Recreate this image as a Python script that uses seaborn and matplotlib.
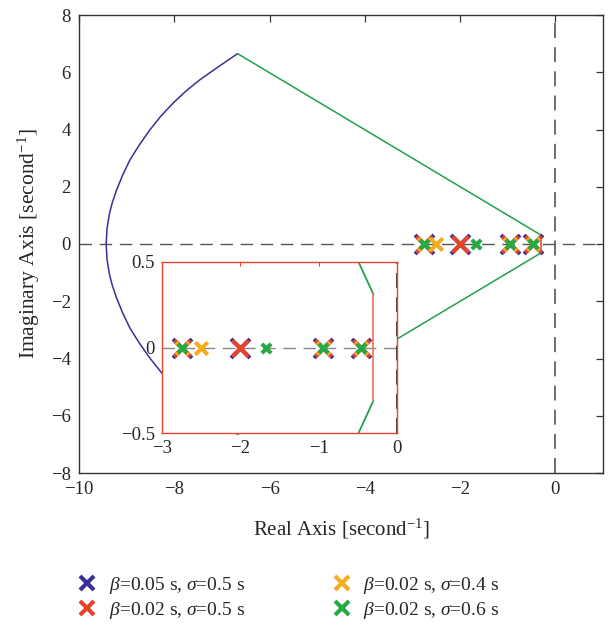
import warnings
import matplotlib
matplotlib.use("Agg")
import matplotlib.pyplot as plt
from matplotlib.lines import Line2D
import seaborn as sns

warnings.filterwarnings("ignore")

# ---- data -------------------------------------------------------------
series_labels = [
    r"$\beta$=0.05 s, $\sigma$=0.5 s",
    r"$\beta$=0.02 s, $\sigma$=0.5 s",
    r"$\beta$=0.02 s, $\sigma$=0.4 s",
    r"$\beta$=0.02 s, $\sigma$=0.6 s",
]
# real parts of the closed-loop poles (all on the real axis)
poles_b005_s05 = [-2.75, -2.0, -0.95, -0.46]
poles_b002_s05 = [-2.75, -2.0, -0.95, -0.46]
poles_b002_s04 = [-2.75, -2.5, -0.95, -0.46]
poles_b002_s06 = [-2.75, -1.67, -0.95, -0.46]
pole_imag = [0.0, 0.0, 0.0, 0.0]

# boundary of the admissible pole region
arc_re = [-6.67, -7.05, -7.46, -7.75, -8.02, -8.28, -8.51, -8.73, -8.93, -9.08,
          -9.21, -9.30, -9.36, -9.41, -9.43, -9.41, -9.36, -9.30, -9.21, -9.08,
          -8.93, -8.73, -8.51, -8.28, -8.02, -7.75, -7.46, -7.05, -6.67]
arc_im = [6.65, 6.22, 5.74, 5.35, 4.93, 4.47, 3.99, 3.47, 2.94, 2.42,
          1.89, 1.45, 1.07, 0.55, 0.0, -0.55, -1.07, -1.45, -1.89, -2.42,
          -2.94, -3.47, -3.99, -4.47, -4.93, -5.35, -5.74, -6.22, -6.65]
upper_edge_re = [-6.67, -0.30]
upper_edge_im = [6.65, 0.31]
lower_edge_re = [-0.30, -6.67]
lower_edge_im = [-0.31, -6.65]
vert_edge_re = [-0.30, -0.30]
vert_edge_im = [0.31, -0.31]

main_xticks = [-10, -8, -6, -4, -2, 0]
main_yticks = [-8, -6, -4, -2, 0, 2, 4, 6, 8]
inset_xticks = [-3, -2, -1, 0]
inset_yticks = [-0.5, 0, 0.5]

# ---- style -------------------------------------------------------------
sns.set_style("white")
plt.rcParams["font.family"] = ["Liberation Serif", "DejaVu Serif"]
plt.rcParams["mathtext.fontset"] = "custom"
plt.rcParams["mathtext.rm"] = "Liberation Serif"
plt.rcParams["mathtext.it"] = "Liberation Serif:italic"
plt.rcParams["mathtext.bf"] = "Liberation Serif:bold"
plt.rcParams["axes.unicode_minus"] = True

c_blue = "#3b2e94"
c_red = "#e8432b"
c_orange = "#f7ab1e"
c_green = "#26a843"
c_line_green = "#1da24a"
c_salmon = "#f07a6a"
pole_colors = [c_blue, c_red, c_orange, c_green]
pole_sizes = [185, 135, 80, 45]
pole_sets = [poles_b005_s05, poles_b002_s05, poles_b002_s04, poles_b002_s06]

fig = plt.figure(figsize=(6.10, 6.25), dpi=100)
ax = fig.add_axes([0.1295, 0.2432, 0.859, 0.7328])


def draw_content(a, boundary_lw, vert_color, vline_color, hline_color):
    a.axhline(0, color=hline_color, lw=1.0, dashes=(9, 5.5), zorder=1)
    a.axvline(0, color=vline_color, lw=1.2, dashes=(9, 5.5), zorder=1)
    sns.lineplot(x=arc_re, y=arc_im, sort=False, estimator=None,
                 color=c_blue, lw=boundary_lw, ax=a, zorder=2)
    sns.lineplot(x=upper_edge_re, y=upper_edge_im, sort=False, estimator=None,
                 color=c_line_green, lw=boundary_lw, ax=a, zorder=2)
    sns.lineplot(x=lower_edge_re, y=lower_edge_im, sort=False, estimator=None,
                 color=c_line_green, lw=boundary_lw, ax=a, zorder=2)
    sns.lineplot(x=vert_edge_re, y=vert_edge_im, sort=False, estimator=None,
                 color=vert_color, lw=boundary_lw, ax=a, zorder=2)
    for k, (pts, col, sz) in enumerate(zip(pole_sets, pole_colors, pole_sizes)):
        sns.scatterplot(x=pts, y=pole_imag, marker="x", s=sz, color=col,
                        edgecolor=None, linewidth=2.9, ax=a, zorder=3 + k,
                        legend=False)


draw_content(ax, 1.1, c_red, "#555555", "#555555")
ax.set_xlim(-10, 1)
ax.set_ylim(-8, 8)
ax.set_xticks(main_xticks)
ax.set_yticks(main_yticks)
ax.tick_params(direction="in", top=True, right=True, length=5, width=0.9,
               color="#333333", labelsize=13.5, pad=6)
for s in ax.spines.values():
    s.set_color("#333333")
    s.set_linewidth(1.0)
ax.set_xlabel(r"Real Axis [second$^{-1}$]", fontsize=15, labelpad=13)
ax.set_ylabel(r"Imaginary Axis [second$^{-1}$]", fontsize=15.5, labelpad=6)

# zoomed view around the poles
axin = fig.add_axes([0.2656, 0.3072, 0.3852, 0.2736])
axin.set_facecolor("white")
draw_content(axin, 1.3, c_salmon, "#222222", "#888888")
axin.set_xlim(-3, 0)
axin.set_ylim(-0.5, 0.5)
axin.set_xticks(inset_xticks)
axin.set_yticks(inset_yticks)
axin.set_xticklabels(["\u22123", "\u22122", "\u22121", "0"])
axin.set_yticklabels(["\u22120.5", "0", "0.5"])
axin.tick_params(direction="in", top=True, right=True, length=3, width=0.8,
                 color=c_red, labelsize=13.5, pad=5)
axin.set_xlabel("")
axin.set_ylabel("")
for s in axin.spines.values():
    s.set_color(c_red)
    s.set_linewidth(1.0)

# legend below the plot
handles = [Line2D([], [], ls="none", marker="x", ms=9.5, mew=3, color=c)
           for c in pole_colors]
fig.legend(handles, series_labels, loc="upper left",
           bbox_to_anchor=(0.108, 0.096), bbox_transform=fig.transFigure,
           ncol=2, frameon=False, borderpad=0.0,
           fontsize=14, columnspacing=4.4, handlelength=1.2,
           handletextpad=0.5, labelspacing=0.2)

fig.savefig("out.png", dpi=100)
